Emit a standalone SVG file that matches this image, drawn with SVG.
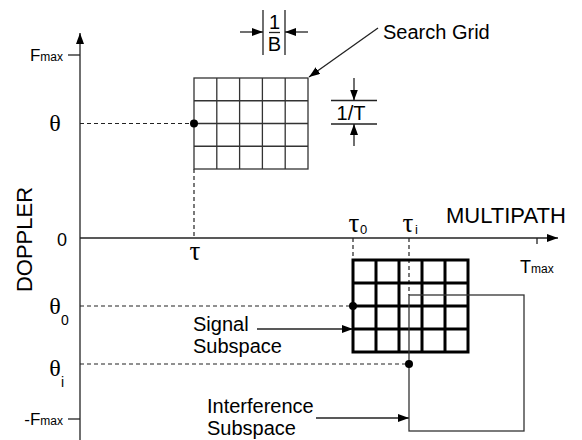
<svg xmlns="http://www.w3.org/2000/svg" width="582" height="440" viewBox="0 0 582 440">
<style>
.ln{stroke:#222;stroke-width:1.3;fill:none}
.dash{stroke:#222;stroke-width:1.2;stroke-dasharray:4 3;fill:none}
.thin{stroke:#333;stroke-width:1.3;fill:none}
.thick{stroke:#000;stroke-width:3;fill:none}
.t{font-family:"Liberation Sans",Arial,sans-serif;fill:#000}
.g{font-family:"Liberation Serif","Times New Roman",serif;fill:#000}
</style>
<defs>
<marker id="ah" markerWidth="11" markerHeight="8" refX="11" refY="4" orient="auto" markerUnits="userSpaceOnUse"><path d="M0,0 L11,4 L0,8 z" fill="#000"/></marker>
</defs>
<rect width="582" height="440" fill="#fff"/>

<g id="connectors">
<line class="ln" x1="80" y1="440" x2="80" y2="33" marker-end="url(#ah)"/>
<line class="ln" x1="80" y1="238" x2="558" y2="238" marker-end="url(#ah)"/>
<line class="ln" x1="68" y1="55" x2="80" y2="55"/>
<line class="ln" x1="68" y1="419" x2="80" y2="419"/>
<line class="ln" x1="537" y1="238" x2="537" y2="244"/>
<line class="dash" x1="80" y1="123.5" x2="194" y2="123.5"/>
<line class="dash" x1="194" y1="169" x2="194" y2="238"/>
<line class="dash" x1="80" y1="306" x2="353" y2="306"/>
<line class="dash" x1="80" y1="364" x2="409" y2="364"/>
<line class="dash" x1="353" y1="238" x2="353" y2="260"/>
<line class="dash" x1="409" y1="238" x2="409" y2="295"/>
<line class="ln" x1="378" y1="28" x2="309" y2="77" marker-end="url(#ah)"/>
<line class="ln" x1="257" y1="329" x2="353" y2="329" marker-end="url(#ah)"/>
<line class="ln" x1="316" y1="418" x2="409" y2="418" marker-end="url(#ah)"/>
</g>

<g id="dim-1B">
<line class="ln" x1="263" y1="10" x2="263" y2="55"/>
<line class="ln" x1="285" y1="10" x2="285" y2="55"/>
<line class="ln" x1="240" y1="32" x2="263" y2="32" marker-end="url(#ah)"/>
<line class="ln" x1="308" y1="32" x2="285" y2="32" marker-end="url(#ah)"/>
<line class="ln" x1="269" y1="32.5" x2="280" y2="32.5"/>
<text class="t" x="274.5" y="29" font-size="20" text-anchor="middle">1</text>
<text class="t" x="274.5" y="51" font-size="20" text-anchor="middle">B</text>
</g>

<g id="dim-1T">
<line class="ln" x1="331" y1="100.5" x2="377" y2="100.5"/>
<line class="ln" x1="331" y1="124" x2="377" y2="124"/>
<line class="ln" x1="354" y1="78" x2="354" y2="100.5" marker-end="url(#ah)"/>
<line class="ln" x1="354" y1="146" x2="354" y2="124" marker-end="url(#ah)"/>
<text class="t" x="351" y="120" font-size="20" text-anchor="middle">1/T</text>
</g>

<g id="search-grid">
<rect class="thin" x="194" y="78" width="114" height="91"/>
<path class="thin" d="M216.8,78V169M239.6,78V169M262.4,78V169M285.2,78V169M194,100.75H308M194,123.5H308M194,146.25H308"/>
<circle cx="194" cy="123.5" r="4" fill="#000"/>
</g>

<g id="signal-subspace">
<rect class="thick" x="353" y="260" width="115" height="92"/>
<path class="thick" d="M376,260V352M399,260V352M422,260V352M445,260V352M353,283H468M353,306H468M353,329H468"/>
<circle cx="353" cy="306" r="4" fill="#000"/>
</g>

<g id="interference-subspace">
<rect class="thin" x="409" y="295" width="115" height="136"/>
<circle cx="409" cy="364" r="4" fill="#000"/>
</g>

<g id="labels">
<text class="t" x="32" y="239.5" font-size="22" text-anchor="middle" transform="rotate(-90 32 239.5)">DOPPLER</text>
<text class="t" x="446" y="223" font-size="22">MULTIPATH</text>
<text class="t" x="383" y="39" font-size="20">Search Grid</text>
<text class="t" x="63" y="61" text-anchor="end"><tspan font-size="17">F</tspan><tspan font-size="12">max</tspan></text>
<text class="t" x="63" y="425" text-anchor="end"><tspan font-size="17">-F</tspan><tspan font-size="12">max</tspan></text>
<text class="t" x="520" y="273"><tspan font-size="18">T</tspan><tspan font-size="12">max</tspan></text>
<text class="t" x="57" y="246" font-size="18">0</text>
<text class="g" x="55" y="131" font-size="24" text-anchor="middle">θ</text>
<text class="g" x="55" y="314" font-size="24" text-anchor="middle">θ</text>
<text class="t" x="61" y="325" font-size="14">0</text>
<text class="g" x="55" y="376" font-size="24" text-anchor="middle">θ</text>
<text class="t" x="61" y="387" font-size="14">i</text>
<text class="g" x="195" y="260" font-size="27" text-anchor="middle">τ</text>
<text class="g" x="354" y="232" font-size="27" text-anchor="middle">τ</text>
<text class="t" x="360" y="234" font-size="13">0</text>
<text class="g" x="408" y="232" font-size="27" text-anchor="middle">τ</text>
<text class="t" x="415" y="234" font-size="13">i</text>
<text class="t" x="193" y="331" font-size="20">Signal</text>
<text class="t" x="193" y="353" font-size="20">Subspace</text>
<text class="t" x="207" y="413" font-size="20">Interference</text>
<text class="t" x="207" y="435" font-size="20">Subspace</text>
</g>
</svg>
